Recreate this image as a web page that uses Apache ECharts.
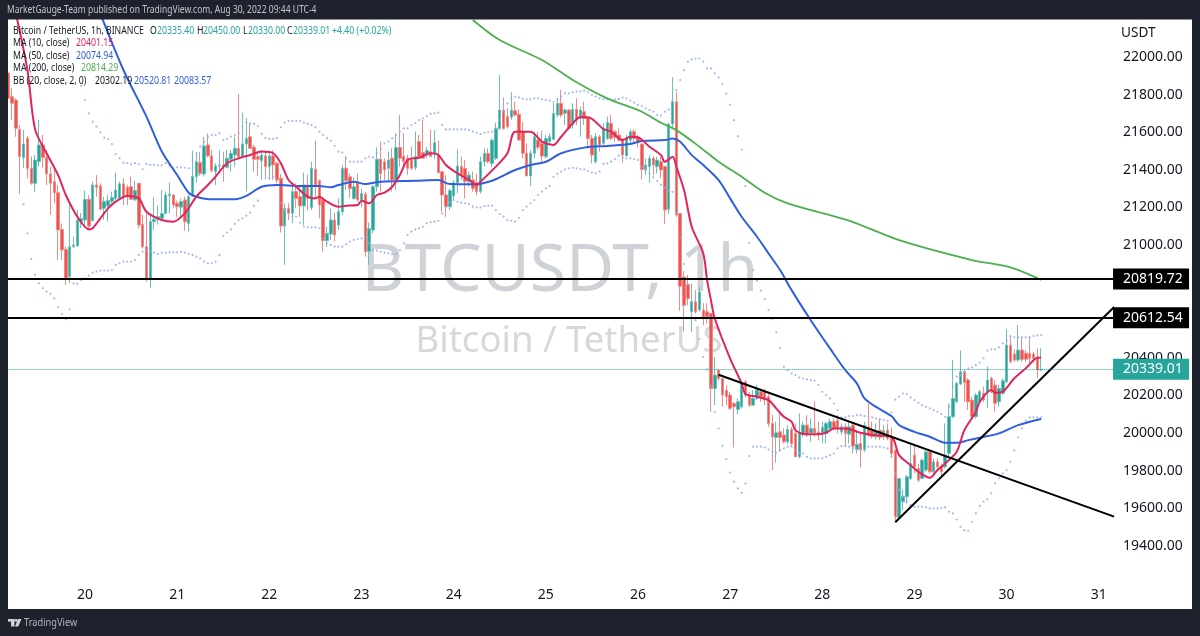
<!DOCTYPE html>
<html><head><meta charset="utf-8">
<style>html,body{margin:0;padding:0;background:#1e222d}#c{width:1200px;height:636px}</style>
<script src="https://cdn.jsdelivr.net/npm/echarts@6/dist/echarts.min.js"></script>
</head><body><div id="c"></div>
<script>
const dayLabels = {20:20,44:21,68:22,92:23,116:24,140:25,164:26,188:27,212:28,236:29,260:30,284:31};
const priceMin = 19200, priceMax = 22200, priceStep = 200;
const levelA = 20819.72, levelB = 20612.54, lastPrice = 20339.01;
// open, high, low, close per hour
const ohlc = [
[21915,21920,21685,21780],[21789,21833,21665,21754],[21771,21780,21576,21621],[21615,21638,21271,21470],[21466,21612,21411,21537],
[21568,21580,21355,21408],[21408,21470,21320,21328],[21328,21479,21284,21452],[21443,21665,21417,21532],[21532,21585,21413,21466],
[21466,21505,21319,21378],[21378,21417,21160,21328],[21337,21399,21222,21278],[21278,21319,20920,21080],[21083,21115,20920,20974],
[20977,20991,20787,20823],[20832,21222,20796,20991],[20991,21044,20985,21000],[20995,21186,20991,21133],[21124,21170,21090,21140],
[21133,21289,21089,21243],[21243,21265,21085,21100],[21130,21337,21124,21319],[21319,21372,21257,21307],[21314,21328,21186,21190],
[21195,21257,21133,21231],[21208,21266,21124,21236],[21231,21284,21222,21252],[21248,21385,21240,21293],[21248,21337,21240,21325],
[21325,21355,21213,21257],[21307,21319,21213,21257],[21310,21364,21240,21243],[21240,21340,21235,21290],[21328,21328,21089,21106],
[21110,21160,20982,20991],[20991,21186,20805,20823],[20823,21165,20770,21124],[21124,21254,21080,21137],[21137,21210,21110,21150],
[21142,21293,21124,21168],[21168,21284,21165,21266],[21262,21332,21168,21270],[21266,21271,21195,21213],[21222,21236,21150,21204],
[21201,21248,21150,21231],[21240,21257,21076,21124],[21115,21266,21071,21257],[21261,21502,21257,21364],[21364,21491,21332,21443],
[21438,21496,21367,21381],[21378,21576,21364,21527],[21532,21594,21466,21474],[21474,21505,21385,21396],[21390,21435,21320,21420],
[21420,21505,21399,21425],[21425,21496,21337,21418],[21413,21505,21408,21461],[21456,21505,21390,21488],[21479,21576,21417,21514],
[21514,21803,21456,21470],[21474,21704,21466,21537],[21537,21674,21284,21567],[21576,21647,21514,21514],[21520,21532,21390,21456],
[21470,21496,21367,21456],[21448,21505,21346,21479],[21474,21496,21360,21417],[21417,21502,21346,21474],[21474,21505,21346,21426],
[21435,21443,21328,21346],[21355,21378,21066,21101],[21101,21222,20894,21195],[21195,21222,21133,21169],[21169,21319,21115,21284],
[21284,21328,21195,21248],[21257,21319,21150,21208],[21208,21385,21106,21319],[21319,21375,21185,21248],[21200,21443,21186,21408],
[21403,21555,21248,21319],[21342,21349,21142,21213],[21240,21248,20965,21023],[21023,21097,20991,21062],[21058,21195,21027,21133],
[21133,21170,21020,21053],[21106,21248,21080,21178],[21177,21426,21160,21408],[21408,21473,21293,21342],[21363,21380,21250,21300],
[21248,21360,21240,21310],[21330,21380,21230,21240],[21240,21300,21200,21275],[21271,21284,20938,20965],[20965,21120,20894,21088],
[21080,21319,21062,21310],[21310,21519,21284,21456],[21456,21550,21284,21380],[21443,21460,21346,21399],[21408,21497,21337,21452],
[21461,21514,21284,21346],[21346,21594,21293,21519],[21519,21691,21417,21461],[21473,21594,21425,21445],[21461,21479,21372,21408],
[21452,21523,21399,21408],[21413,21603,21399,21470],[21550,21585,21456,21470],[21491,21665,21461,21461],[21479,21519,21461,21502],
[21496,21612,21470,21470],[21484,21612,21461,21544],[21479,21555,21384,21384],[21390,21390,21177,21266],[21266,21372,21150,21204],
[21204,21301,21186,21289],[21261,21346,21239,21331],[21331,21509,21275,21420],[21417,21470,21346,21372],[21408,21452,21248,21337],
[21337,21390,21310,21372],[21346,21390,21284,21301],[21332,21381,21266,21284],[21284,21470,21275,21443],[21443,21514,21416,21487],
[21487,21514,21434,21443],[21434,21567,21416,21558],[21461,21651,21452,21620],[21620,21904,21612,21718],[21718,21785,21612,21620],
[21683,21727,21620,21630],[21680,21812,21665,21718],[21714,21762,21683,21691],[21696,21722,21558,21558],[21603,21656,21461,21488],
[21488,21541,21367,21367],[21367,21505,21314,21488],[21488,21603,21461,21576],[21558,21603,21505,21520],[21541,21608,21443,21473],
[21470,21585,21461,21567],[21550,21594,21532,21576],[21562,21754,21558,21700],[21691,21780,21679,21753],[21753,21824,21679,21691],
[21700,21727,21638,21718],[21718,21722,21612,21620],[21638,21754,21620,21722],[21722,21780,21638,21665],[21674,21736,21576,21718],
[21709,21762,21638,21674],[21679,21679,21514,21567],[21567,21585,21434,21479],[21443,21594,21434,21576],[21576,21585,21496,21532],
[21541,21647,21532,21621],[21567,21683,21558,21651],[21647,21691,21558,21567],[21603,21612,21550,21573],[21585,21620,21550,21558],
[21562,21567,21438,21479],[21475,21585,21470,21567],[21558,21615,21532,21603],[21603,21615,21541,21567],[21573,21585,21519,21550],
[21537,21541,21349,21402],[21402,21461,21372,21425],[21417,21479,21332,21461],[21461,21473,21372,21425],[21417,21470,21381,21452],
[21443,21470,21355,21399],[21417,21417,21112,21186],[21190,21647,21165,21644],[21644,21892,21620,21762],[21762,21815,21150,21159],
[21168,21170,20650,20780],[20830,20860,20540,20680],[20790,20840,20680,20716],[20645,20795,20538,20698],[20698,20760,20635,20645],
[20655,20778,20645,20750],[20654,20690,20574,20610],[20645,20690,20583,20620],[20636,20636,20113,20237],[20237,20405,20148,20308],
[20335,20335,20280,20290],[20290,20290,20140,20202],[20228,20255,20148,20193],[20202,20219,20122,20131],[20157,20165,19923,20140],
[20125,20184,20100,20166],[20140,20272,20130,20264],[20272,20281,20189,20201],[20201,20219,20139,20148],[20148,20228,20148,20184],
[20184,20255,20175,20228],[20219,20237,20166,20193],[20219,20237,20148,20175],[20193,20210,20033,20051],[20051,20095,19803,19980],
[19976,20060,19842,20001],[20006,20100,19900,19976],[19989,20024,19944,19953],[19953,20042,19941,20019],[20019,20033,19927,19944],
[19998,20051,19873,19873],[19873,20104,19865,19998],[19993,20060,19980,20042],[20042,20095,19980,19989],[20000,20077,19953,20024],
[20024,20166,19980,20000],[20006,20060,19962,19995],[20000,20060,19945,20030],[19998,20060,19945,20051],[20024,20077,20015,20060],
[20060,20077,20015,20024],[20068,20095,19998,20024],[20006,20051,19990,20033],[20033,20051,19927,19998],[19994,20060,19944,20033],
[20042,20060,19891,19930],[19912,20015,19891,19940],[19944,19998,19817,19912],[19912,20060,19905,20042],[20033,20154,19980,19989],
[20015,20060,19971,19980],[19980,20051,19965,20006],[20015,20077,19962,19976],[19980,20042,19962,20012],[20015,20051,19962,19971],
[19980,20030,19877,19891],[19909,19909,19528,19554],[19551,19758,19537,19758],[19634,19700,19590,19664],[19661,19776,19625,19767],
[19758,19945,19750,19838],[19882,19936,19785,19820],[19811,19838,19740,19749],[19758,19865,19758,19856],[19803,19909,19794,19900],
[19900,19909,19785,19794],[19794,19865,19785,19847],[19847,19865,19794,19820],[19820,19838,19770,19794],[19820,20051,19811,19882],
[19892,20158,19874,20087],[20087,20388,20078,20184],[20166,20273,20158,20264],[20260,20438,20255,20326],[20326,20335,20166,20268],
[20282,20291,20122,20166],[20175,20193,20083,20087],[20087,20211,20078,20202],[20166,20229,20158,20220],[20211,20246,20166,20175],
[20220,20353,20131,20282],[20291,20299,20211,20229],[20255,20282,20113,20158],[20166,20255,20140,20237],[20211,20290,20202,20278],
[20273,20551,20264,20468],[20468,20521,20370,20379],[20420,20445,20379,20388],[20388,20574,20379,20441],[20441,20509,20379,20392],
[20424,20441,20379,20392],[20424,20516,20370,20397],[20420,20432,20375,20397],[20402,20450,20290,20335],[20335.4,20450,20330,20339.01]
];
const ma10 = [[2,22230],[4.8,21931],[7,21615],[10,21488],[13,21372],[15,21266],[18,21151],[20.6,21083],[21.7,21089],[24,21142],[25.6,21195],[28,21231],[31,21261],[33.5,21248],[36,21177],[39.5,21133],[43,21124],[45.6,21169],[49,21257],[51.7,21319],[54.3,21364],[57,21435],[59.5,21461],[63,21479],[66,21497],[69,21488],[71,21435],[73,21346],[75,21310],[78,21257],[80,21248],[81.2,21257],[83.4,21231],[85.5,21204],[88,21209],[90.7,21213],[91.6,21236],[93.8,21222],[95.5,21266],[97.7,21278],[100.3,21310],[102,21372],[104.2,21452],[106.8,21464],[110.3,21488],[112,21479],[114,21426],[116.8,21381],[119.8,21346],[121.6,21319],[123.3,21337],[127.2,21417],[129.8,21488],[132.4,21603],[136.3,21603],[139.4,21550],[141.5,21532],[144,21576],[146.7,21647],[148.9,21679],[151,21679],[154.5,21617],[157,21603],[160.2,21558],[162.4,21576],[164,21573],[166.7,21523],[169.7,21478],[171,21443],[172.7,21469],[174,21416],[176.2,21292],[178.4,21097],[180.6,20955],[181.9,20813],[182.7,20707],[183.6,20609],[187.9,20396],[191,20264],[192,20207],[194.9,20193],[198,20175],[200,20131],[202.3,20086],[204,20060],[205.3,20015],[207.9,19994],[210.5,19994],[213,20001],[214.8,20024],[218.3,20024],[221.8,20001],[225.3,19989],[229.6,19980],[232.2,19882],[234.8,19829],[237,19794],[239.8,19762],[242,19803],[244.4,19838],[246.5,19900],[248.7,20015],[251.7,20113],[253,20166],[255.6,20229],[257.4,20214],[259,20220],[261.7,20291],[265.2,20344],[267.8,20400],[269,20401.15]];
const ma50 = [[24.4,22230],[30.4,21931],[36,21683],[40.4,21497],[43.9,21372],[47,21278],[49,21257],[53.4,21243],[58.6,21243],[62,21261],[66.4,21310],[69.5,21319],[76,21314],[81.2,21314],[84.2,21307],[86.4,21319],[89.9,21337],[93.3,21324],[96.8,21337],[106.4,21342],[111.6,21346],[115,21324],[121,21323],[126.3,21342],[131.5,21399],[135.9,21426],[140.2,21443],[143.7,21488],[149.8,21518],[155.8,21527],[161.9,21537],[164.5,21553],[171,21558],[173.2,21566],[175,21549],[178.4,21478],[181,21425],[184.5,21345],[188,21248],[191.4,21150],[194.9,21044],[198.3,20955],[201,20867],[204.4,20760],[209.2,20600],[214,20450],[218.3,20334],[220.9,20264],[223,20184],[226,20139],[229.6,20090],[231.8,20042],[235.7,20006],[240,19980],[244.4,19948],[246.9,19948],[250,19962],[253,19975],[258.2,19998],[262.6,20042],[269,20074.94]];
const ma200 = [[120.5,22197],[128,22090],[138.5,21984],[147.2,21878],[155.8,21780],[164.5,21709],[169.7,21650],[174,21611],[180,21523],[185.3,21443],[190.5,21363],[196.6,21278],[203,21221],[212,21170],[220,21122],[232,21026],[251,20920],[260.8,20881],[269,20814.29]];
const bbUpperStart = 19;
const bbUpper = [21846,21771,21700,21656,21630,21599,21571,21562,21537,21484,21461,21438,21435,21429,21435,21429,21403,21431,21426,21426,21424,21424,21435,21422,21408,21413,21413,21411,21408,21452,21488,21523,21550,21576,21585,21585,21594,21559,21564,21576,21585,21598,21630,21651,21647,21644,21633,21591,21568,21564,21564,21568,21626,21651,21660,21660,21660,21660,21651,21644,21638,21626,21603,21585,21568,21555,21527,21497,
21491,21461,21443,21443,21443,21443,21461,21470,21466,21488,21509,21541,21550,21567,21585,21603,21620,21620,21638,21647,21665,21674,21686,21697,21700,21704,21638,21615,21615,21615,21615,21615,21615,21612,21603,21597,21590,21597,21601,21603,21620,21665,21709,21753,21780,21789,21785,21778,21775,21775,21780,21780,21775,21771,21768,21762,21775,21789,21807,21807,21812,21816,21816,21821,21812,21798,21789,21780,21777,21775,21771,21775,21777,21784,21780,21768,21757,21745,21739,21727,21718,21709,21691,21690,21709,21721,21771,21824,21877,21930,21975,21987,21992,21992,21975,21939,21939,21913,21891,21856,21806,21746,21664,21579,21508,21313,21012,20867,20810,20757,20712,20654,20606,20535,20453,20352,20334,20317,20308,20295,20290,20285,20281,20278,20255,20219,20201,20184,20157,20122,20083,20083,20090,20090,20095,20095,20090,20086,20083,20077,20072,20069,20065,20110,20178,20193,20210,20207,20189,20175,20161,20148,20139,20131,20122,20113,20100,20086,20140,20246,20300,20308,20326,20344,20349,20361,20374,20397,20438,20445,20445,20455,20477,20494,20512,20509,20509,20509,20509,20509,20516,20519,20520.81];
const bbLowerStart = 4;
const bbLower = [21216,21062,20926,20841,20796,20770,20752,20740,20716,20669,20633,20605,20658,20796,20793,20814,20823,20837,20853,20858,20864,20864,20864,20867,20894,20903,20912,20912,20912,20920,20947,20965,20974,20965,20959,20952,20959,20959,20961,20961,20961,20963,20959,20952,20947,20938,20929,20912,20903,20903,20912,20947,21048,21066,21083,21112,21133,21142,21156,21172,21208,21236,21310,21355,21355,21364,21346,21222,21186,21169,21151,21151,21119,21098,21094,21094,21094,21089,21036,21009,21000,20991,20991,
20991,21005,21018,21027,21032,21035,21040,21009,20973,20970,20964,20959,20956,20952,20952,20973,21009,21053,21071,21083,21089,21097,21115,21121,21124,21129,21168,21204,21225,21239,21230,21225,21222,21218,21204,21200,21200,21207,21209,21209,21186,21165,21151,21133,21129,21124,21145,21186,21204,21222,21239,21266,21284,21301,21314,21363,21378,21390,21402,21408,21411,21408,21404,21402,21395,21385,21381,21390,21431,21434,21443,21457,21475,21466,21461,21461,21457,21452,21417,21395,21380,21360,21340,21320,21305,21290,21283,21170,21040,20899,20790,20700,20600,20500,20405,20338,20250,20113,20024,19932,19861,19790,19741,19705,19682,19732,19877,19927,19927,19927,19923,19912,19900,19895,19909,19918,19927,19927,19909,19895,19891,19873,19865,19865,19865,19865,19873,19882,19891,19918,19930,19930,19927,19918,19912,19909,19904,19927,19927,19927,19927,19923,19918,19873,19785,19696,19661,19634,19616,19608,19608,19608,19604,19599,19599,19599,19602,19604,19581,19572,19540,19501,19483,19480,19528,19572,19612,19635,19647,19679,19732,19759,19785,19803,19847,19906,19977,20025,20065,20083,20083,20083,20083.57];
const trendDown = [[185,20310],[288,19555]];
const trendUp = [[231,19525],[288,20670]];

const FRAME = '#1e222d', UP = '#26a69a', DOWN = '#ef5350';
const FONT = '"Noto Sans", sans-serif';
const count = 289;
const categories = Array.from({length: count}, (_, i) => dayLabels[i] !== undefined ? String(dayLabels[i]) : '');
const indexed = (start, arr) => arr.map((v, i) => [start + i, v]);
const t = (x, y, text, fill, size, sx) => ({type:'text', z:101, silent:true, x, y, scaleX:sx || 0.84, originX:0, originY:0,
  style:{text, fill, font:(size||10.4)+'px '+FONT, textVerticalAlign:'middle'}});
const rect = (x, y, w, h) => ({type:'rect', z:100, silent:true, shape:{x,y,width:w,height:h}, style:{fill:FRAME}});

const chart = echarts.init(document.getElementById('c'), null, {renderer:'canvas'});
const level = (value, color, lineType, width, labelText) => ({
  yAxis:value, lineStyle:{color, type:lineType, width},
  label:{show:true, position:'end', distance:-3, formatter:labelText, color:'#fff', backgroundColor:color, padding:[3,0,4,10], width:66, fontSize:14, fontFamily:FONT, lineHeight:14}
});
const maLine = (name, data, color, width) => ({type:'line', name, data, smooth:0.3, showSymbol:false, z:4, lineStyle:{color, width}});
chart.setOption({
  animation:false,
  backgroundColor:'#ffffff',
  grid:{left:6.3, right:83.94, top:19.4, bottom:52.6},
  xAxis:{type:'category', data:categories, boundaryGap:true,
    axisLine:{show:false}, axisTick:{show:false}, splitLine:{show:false},
    axisLabel:{interval:0, margin:2, color:'#131722', fontSize:14, fontFamily:FONT, hideOverlap:false, lineHeight:20}},
  yAxis:{type:'value', position:'right', min:priceMin, max:priceMax, interval:priceStep, scale:true,
    axisLine:{show:false}, axisTick:{show:false}, splitLine:{show:false},
    axisLabel:{margin:7, color:'#131722', fontSize:14, fontFamily:FONT,
      formatter:v => (v === priceMin || v === priceMax) ? '' : v.toFixed(2)}},
  series:[
    {type:'candlestick', name:'BTCUSDT', barWidth:3, z:2,
     data:ohlc.map(r => [r[0], r[3], r[2], r[1]]),
     itemStyle:{color:UP, color0:DOWN, borderColor:'#6cc2ba', borderColor0:'#f28b88', borderWidth:1}},
    {type:'scatter', name:'BB upper', data:indexed(bbUpperStart, bbUpper), symbolSize:2.2, z:3, itemStyle:{color:'#93a8ec'}},
    {type:'scatter', name:'BB lower', data:indexed(bbLowerStart, bbLower), symbolSize:2.2, z:3, itemStyle:{color:'#93a8ec'}},
    maLine('MA 200', ma200, '#4caf50', 1.8),
    maLine('MA 50', ma50, '#2f5fe0', 2),
    maLine('MA 10', ma10, '#e0245e', 2),
    {type:'line', name:'Trend down', data:trendDown, showSymbol:false, z:5, lineStyle:{color:'#000', width:2}},
    {type:'line', name:'Trend up', data:trendUp, showSymbol:false, z:5, lineStyle:{color:'#000', width:2}},
    {type:'line', name:'Levels', data:[], z:6,
     markLine:{silent:true, symbol:'none', precision:2, z:6, data:[
       level(levelA, '#000000', 'solid', 2, levelA.toFixed(2)),
       level(levelB, '#000000', 'solid', 2, levelB.toFixed(2)),
       level(lastPrice, UP, 'dotted', 1, lastPrice.toFixed(2))
     ]}}
  ],
  graphic:{elements:[
    {type:'text', z:-1, silent:true, x:560, y:272, style:{text:'BTCUSDT, 1h', fill:'#cfd2d7', font:'66px '+FONT, textAlign:'center', textVerticalAlign:'middle'}},
    {type:'text', z:-1, silent:true, x:569, y:342, style:{text:'Bitcoin / TetherUS', fill:'#d6d8dc', font:'36.5px '+FONT, textAlign:'center', textVerticalAlign:'middle'}},
    rect(0,0,1200,19.5), rect(0,609,1200,27), rect(0,0,8,636), rect(1192,0,8,636),
    t(7,10.5,'MarketGauge-Team published on TradingView.com, Aug 30, 2022 09:44 UTC-4','#c2c5cc',10.5,0.81),
    t(13,31,'Bitcoin / TetherUS, 1h, BINANCE','#131722'),
    t(150,31,'O','#131722'), t(157,31,'20335.40',UP), t(197,31,'H','#131722'), t(203,31,'20450.00',UP),
    t(243,31,'L','#131722'), t(248,31,'20330.00',UP), t(287,31,'C','#131722'), t(293,31,'20339.01',UP),
    t(332,31,'+4.40 (+0.02%)',UP),
    t(13,43.5,'MA (10, close)','#131722'), t(76,43.5,'20401.15','#e0245e'),
    t(13,56,'MA (50, close)','#131722'), t(76,56,'20074.94','#2f5fe0'),
    t(13,68.5,'MA (200, close)','#131722'), t(81,68.5,'20814.29','#4caf50'),
    t(13,81,'BB (20, close, 2, 0)','#131722'), t(95,81,'20302.19','#131722'), t(134,81,'20520.81','#2f5fe0'), t(174,81,'20083.57','#2f5fe0'),
    t(1121,33,'USDT','#131722',14,0.97),
    {type:'rect', z:101, silent:true, shape:{x:8,y:619,width:6.5,height:2.6}, style:{fill:'#d0d2d8'}},
    {type:'rect', z:101, silent:true, shape:{x:11,y:619,width:3.5,height:7.5}, style:{fill:'#d0d2d8'}},
    {type:'circle', z:101, silent:true, shape:{cx:16.2,cy:620.4,r:1.4}, style:{fill:'#d0d2d8'}},
    {type:'polygon', z:101, silent:true, shape:{points:[[18,619],[21.5,619],[18.2,626.5],[15,626.5]]}, style:{fill:'#d0d2d8'}},
    t(24,623,'TradingView','#b2b5be',11,0.84)
  ]}
});
</script></body></html>
